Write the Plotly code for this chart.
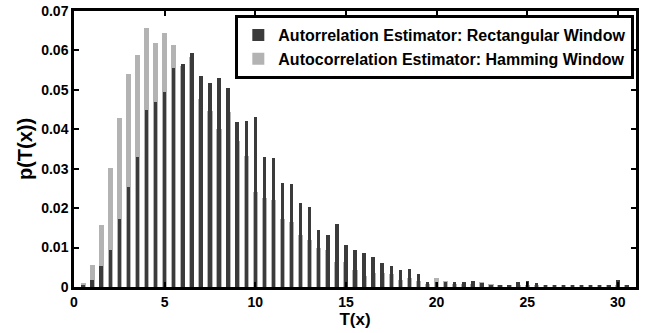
import plotly.graph_objects as go

bin_centers = [0.5, 1.0, 1.5, 2.0, 2.5, 3.0, 3.5, 4.0, 4.5, 5.0,
               5.5, 6.0, 6.5, 7.0, 7.5, 8.0, 8.5, 9.0, 9.5, 10.0,
               10.5, 11.0, 11.5, 12.0, 12.5, 13.0, 13.5, 14.0, 14.5, 15.0,
               15.5, 16.0, 16.5, 17.0, 17.5, 18.0, 18.5, 19.0, 19.5, 20.0,
               20.5, 21.0, 21.5, 22.0, 22.5, 23.0, 23.5, 24.0, 24.5, 25.0,
               25.5, 26.0, 26.5, 27.0, 27.5, 28.0, 28.5, 29.0, 29.5, 30.0,
               30.5]

rectangular = [0.0004, 0.0017, 0.0054, 0.0095, 0.0173, 0.0253, 0.0330, 0.0450, 0.0469, 0.0495,
               0.0556, 0.0566, 0.0594, 0.0535, 0.0517, 0.0530, 0.0505, 0.0418, 0.0420, 0.0432,
               0.0330, 0.0326, 0.0265, 0.0261, 0.0212, 0.0202, 0.0145, 0.0132, 0.0159, 0.0107,
               0.0094, 0.0086, 0.0076, 0.0061, 0.0053, 0.0043, 0.0046, 0.0033, 0.0012, 0.0013,
               0.0012, 0.0013, 0.0013, 0.0015, 0.0011, 0.0005, 0.0004, 0.0005, 0.0012, 0.0016,
               0.0010, 0.0004, 0.0003, 0.0004, 0.0003, 0.0003, 0.0004, 0.0003, 0.0003, 0.0017,
               0.0004]

hamming = [0.0011, 0.0057, 0.0158, 0.0302, 0.0428, 0.0540, 0.0588, 0.0656, 0.0619, 0.0644,
           0.0614, 0.0560, 0.0583, 0.0476, 0.0446, 0.0402, 0.0445, 0.0371, 0.0332, 0.0242,
           0.0227, 0.0221, 0.0173, 0.0164, 0.0132, 0.0119, 0.0100, 0.0094, 0.0064, 0.0064,
           0.0043, 0.0029, 0.0035, 0.0036, 0.0032, 0.0017, 0.0023, 0.0014, 0.0008, 0.0023,
           0.0016, 0.0008, 0.0007, 0.0008, 0.0012, 0.0007, 0.0004, 0.0005, 0.0006, 0.0005,
           0.0004, 0.0003, 0.0003, 0.0003, 0.0003, 0.0003, 0.0003, 0.0003, 0.0003, 0.0003,
           0.0003]

x_ticks = [0, 5, 10, 15, 20, 25, 30]
y_ticks = [0, 0.01, 0.02, 0.03, 0.04, 0.05, 0.06, 0.07]
y_tick_labels = ["0", "0.01", "0.02", "0.03", "0.04", "0.05", "0.06", "0.07"]

FONT = "Liberation Sans, Arial, sans-serif"

fig = go.Figure()
fig.add_trace(go.Bar(
    x=bin_centers, y=hamming, width=0.28,
    name="Autocorrelation Estimator: Hamming Window",
    marker=dict(color="#b3b3b3", line=dict(width=0)),
))
fig.add_trace(go.Bar(
    x=bin_centers, y=rectangular, width=0.19,
    name="Autorrelation Estimator: Rectangular Window",
    marker=dict(color="#3b3b3b", line=dict(width=0)),
))

axis_common = dict(
    showline=True, linecolor="black", linewidth=2.5, mirror="ticks",
    ticks="inside", ticklen=5, tickwidth=2, tickcolor="black",
    showgrid=False, zeroline=False, automargin=False,
    tickfont=dict(family=FONT, size=14, color="black", weight="bold"),
)

fig.update_layout(
    width=650, height=333,
    margin=dict(l=74, r=14, t=11, b=46),
    paper_bgcolor="white", plot_bgcolor="white",
    barmode="overlay", bargap=0,
    font=dict(family=FONT, color="black"),
    xaxis=dict(range=[0, 31], tickvals=x_ticks,
               title=dict(text="T(x)", standoff=2,
                          font=dict(family=FONT, size=17, color="black", weight="bold")),
               **axis_common),
    yaxis=dict(range=[0, 0.07], tickvals=y_ticks, ticktext=y_tick_labels,
               title=dict(text="p(T(x))", standoff=4,
                          font=dict(family=FONT, size=20, color="black", weight="bold")),
               **axis_common),
    legend=dict(
        x=0.997, xanchor="right", y=0.985, yanchor="top",
        traceorder="reversed",
        bgcolor="white", bordercolor="black", borderwidth=3,
        font=dict(family=FONT, size=16, color="black", weight="bold"),
        tracegroupgap=0,
    ),
    showlegend=True,
)

fig.write_html("out.html", config={"displayModeBar": False},
               post_script="document.body.style.margin='0px';")
